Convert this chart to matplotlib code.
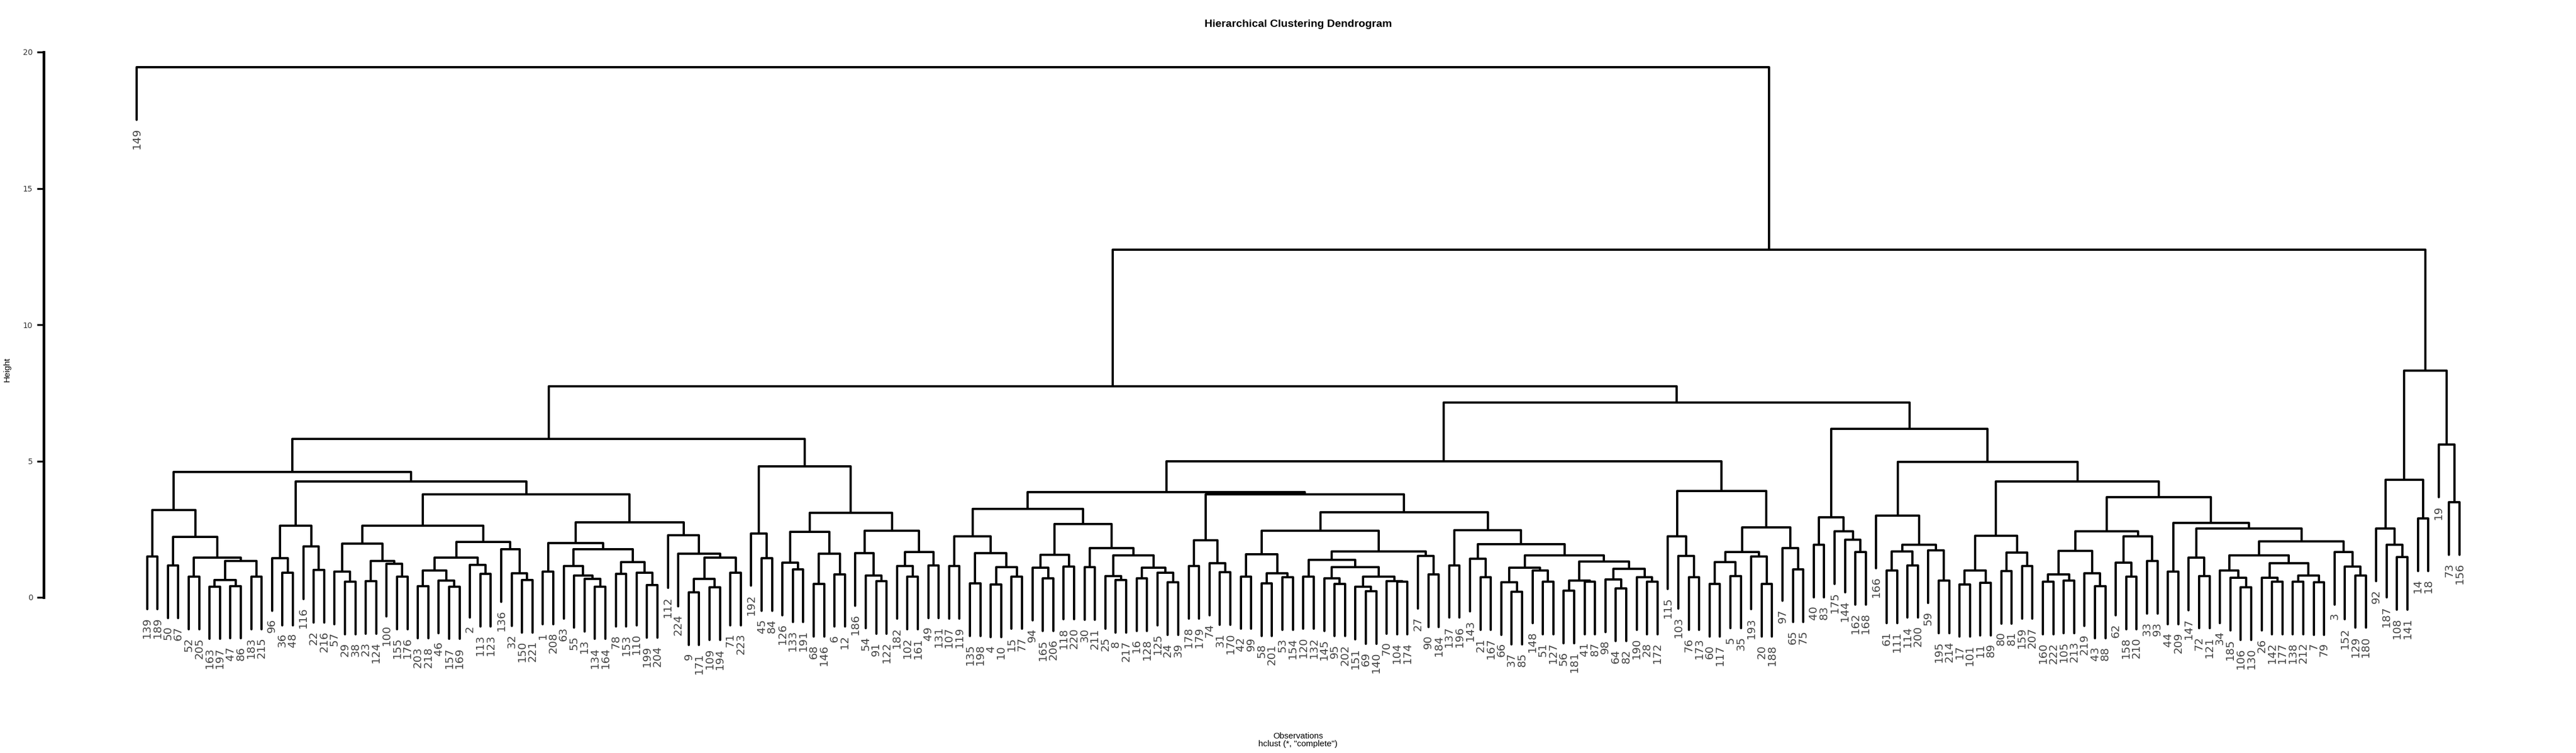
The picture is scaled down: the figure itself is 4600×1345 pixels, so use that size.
import numpy as np
import matplotlib
matplotlib.use("Agg")
import matplotlib.pyplot as plt
from matplotlib.collections import LineCollection

# ---------------- data ----------------
# leaf labels in plotted order (left -> right)
leaf_labels = [
    149, 139, 189, 50, 67, 52, 205, 163, 197, 47, 86, 183, 215, 96, 36, 48, 116, 22, 216, 57,
    29, 38, 23, 124, 100, 155, 176, 203, 218, 46, 157, 169, 2, 113, 123, 136, 32, 150, 221, 1,
    208, 63, 55, 13, 134, 164, 78, 153, 110, 199, 204, 112, 224, 9, 171, 109, 194, 71, 223, 192,
    45, 84, 126, 133, 191, 68, 146, 6, 12, 186, 54, 91, 122, 182, 102, 161, 49, 131, 107, 119,
    135, 198, 4, 10, 15, 77, 94, 165, 206, 118, 220, 30, 211, 25, 8, 217, 16, 128, 125, 24,
    39, 178, 179, 74, 31, 170, 42, 99, 58, 201, 53, 154, 120, 132, 145, 95, 202, 151, 69, 140,
    70, 104, 174, 27, 90, 184, 137, 196, 143, 21, 167, 66, 37, 85, 148, 51, 127, 56, 181, 41,
    87, 98, 64, 82, 190, 28, 172, 115, 103, 76, 173, 60, 117, 5, 35, 193, 20, 188, 97, 65,
    75, 40, 83, 175, 144, 162, 168, 166, 61, 111, 114, 200, 59, 195, 214, 17, 101, 11, 89, 80,
    81, 159, 207, 160, 222, 105, 213, 219, 43, 88, 62, 158, 210, 33, 93, 44, 209, 147, 72, 121,
    34, 185, 106, 130, 26, 142, 177, 138, 212, 7, 79, 3, 152, 129, 180, 92, 187, 108, 141, 14,
    18, 19, 73, 156,
]

# height at which each pair of neighbouring leaves first joins (cophenetic height)
join_heights = [
    19.45, 1.50, 3.20, 1.17, 2.22, 0.75, 1.46, 0.40, 0.64, 0.42, 1.33, 0.76, 4.59, 1.44, 0.91,
    2.63, 1.87, 1.00, 4.25, 0.95, 0.57, 1.97, 0.59, 1.33, 1.23, 0.76, 2.63, 0.42, 0.98, 0.62,
    0.40, 1.46, 1.19, 0.86, 2.04, 1.77, 0.88, 0.64, 3.77, 0.94, 1.99, 1.15, 0.81, 0.68, 0.40,
    1.77, 0.86, 1.29, 0.91, 0.45, 2.76, 2.27, 1.60, 0.18, 0.67, 0.36, 1.46, 0.91, 5.82, 2.35,
    1.44, 4.80, 1.27, 1.03, 2.40, 0.49, 1.60, 0.85, 3.10, 1.62, 0.80, 0.59, 2.44, 1.14, 0.75,
    1.66, 1.17, 7.74, 1.14, 2.23, 0.52, 1.62, 0.47, 1.10, 0.77, 3.24, 1.09, 0.69, 1.57, 1.12,
    2.68, 1.10, 1.80, 0.78, 0.64, 1.55, 0.70, 1.08, 0.91, 0.55, 3.87, 1.15, 2.09, 1.26, 0.92,
    3.77, 0.77, 1.58, 0.52, 0.88, 0.74, 2.44, 0.77, 1.38, 0.70, 0.50, 1.10, 0.38, 0.22, 0.76,
    0.60, 0.57, 1.68, 1.51, 0.84, 3.12, 1.18, 2.47, 1.41, 0.74, 1.96, 0.56, 0.20, 1.09, 0.98,
    0.57, 1.55, 0.25, 0.62, 0.58, 1.32, 0.66, 0.33, 1.04, 0.74, 0.57, 4.98, 2.23, 1.51, 0.74,
    3.91, 0.49, 1.29, 0.79, 1.67, 1.49, 0.49, 2.56, 1.80, 1.03, 7.15, 1.92, 2.94, 2.42, 2.11,
    1.67, 6.18, 3.00, 0.98, 1.68, 1.18, 1.93, 1.72, 0.61, 4.96, 0.48, 0.99, 0.54, 2.25, 0.97,
    1.64, 1.14, 4.25, 0.57, 0.84, 0.62, 1.70, 0.88, 0.42, 2.42, 1.27, 0.76, 2.23, 1.33, 3.67,
    0.94, 2.74, 1.46, 0.79, 2.52, 0.99, 0.71, 0.36, 1.54, 0.71, 0.58, 1.25, 0.58, 0.80, 0.56,
    2.06, 1.67, 1.12, 0.81, 12.75, 2.52, 1.92, 1.47, 4.32, 2.90, 8.31, 5.60, 3.49,
]

y_ticks = [0, 5, 10, 15, 20]
title_text = "Hierarchical Clustering Dendrogram"
x_title = "Observations"
sub_title = 'hclust (*, "complete")'
y_title = "Height"

# ---------------- build the ordered binary tree ----------------
gaps = np.asarray(join_heights, dtype=float)
n = len(leaf_labels)


def build(lo, hi):
    if lo == hi:
        return {"x": float(lo + 1), "h": None, "leaf": lo}
    k = lo + int(np.argmax(gaps[lo:hi]))
    left = build(lo, k)
    right = build(k + 1, hi)
    return {"x": (left["x"] + right["x"]) / 2.0, "h": gaps[k], "L": left, "R": right}


root = build(0, n - 1)
hang = 0.1 * (gaps.max() - gaps.min())

paths = []
leaf_pos = []


def walk(node):
    if node["h"] is None:
        return
    h = node["h"]
    L, R = node["L"], node["R"]
    yl = L["h"] if L["h"] is not None else h - hang
    yr = R["h"] if R["h"] is not None else h - hang
    paths.append([(L["x"], yl), (L["x"], h), (R["x"], h), (R["x"], yr)])
    for c, yb in ((L, yl), (R, yr)):
        if c["h"] is None:
            leaf_pos.append((c["x"], yb, leaf_labels[c["leaf"]]))
        else:
            walk(c)


walk(root)

# ---------------- figure ----------------
W, H, DPI = 4600, 1345, 100
fig = plt.figure(figsize=(W / DPI, H / DPI), dpi=DPI)
fig.patch.set_facecolor("white")

ax_left_px, ax_right_px = 78, 4558
ax = fig.add_axes([ax_left_px / W, 0.0, (ax_right_px - ax_left_px) / W, 1.0])
ax.set_facecolor("none")
xpad = 0.04 * (n - 1)
ax.set_xlim(1 - xpad, n + xpad)
px_per_unit = 48.7
y0_px = 1067
ax.set_ylim((y0_px - H) / px_per_unit, y0_px / px_per_unit)

lc = LineCollection(paths, colors="black", linewidths=2.9,
                    capstyle="round", joinstyle="round")
ax.add_collection(lc)

label_gap = 0.30
for x, yb, lab in leaf_pos:
    ax.text(x, yb - label_gap, str(lab), rotation=90, ha="center", va="top",
            fontsize=14.2, color="#444444", family="DejaVu Sans")

for s in ("top", "right", "bottom"):
    ax.spines[s].set_visible(False)
ax.spines["left"].set_linewidth(3.4)
ax.spines["left"].set_bounds(0, 20)
ax.set_yticks(y_ticks)
ax.set_yticklabels([str(t) for t in y_ticks], family="DejaVu Sans",
                   fontsize=10, color="#333333")
ax.tick_params(axis="y", length=8.6, width=2.4, pad=5.5)
ax.set_xticks([])

fig.text(2318 / W, 1 - 44 / H, title_text, ha="center", va="center",
         fontsize=14, fontweight="bold", family="Liberation Sans")
fig.text(2318 / W, 1 - 1315 / H, x_title, ha="center", va="center",
         fontsize=11, family="Liberation Sans")
fig.text(2318 / W, 1 - 1329 / H, sub_title, ha="center", va="center",
         fontsize=11, family="Liberation Sans")
fig.text(13 / W, 1 - 660 / H, y_title, ha="center", va="center", rotation=90,
         fontsize=11, family="Liberation Sans")

fig.savefig("out.png", dpi=DPI, facecolor="white")
